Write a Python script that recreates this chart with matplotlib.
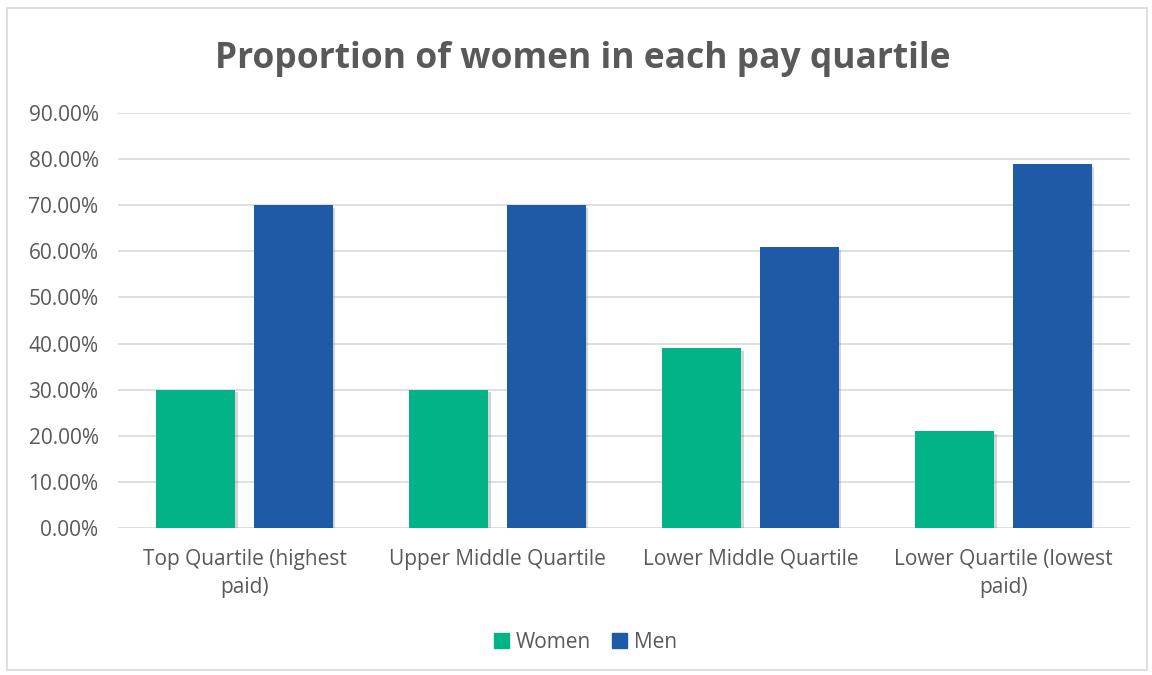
import matplotlib.pyplot as plt
import matplotlib.patheffects as pe
from matplotlib.patches import Rectangle, Patch
from matplotlib.ticker import FuncFormatter
import numpy as np

categories = ["Top Quartile (highest\npaid)", "Upper Middle Quartile",
              "Lower Middle Quartile", "Lower Quartile (lowest\npaid)"]
women = [0.30, 0.30, 0.39, 0.21]
men = [0.70, 0.70, 0.61, 0.79]
yticks = [0.0, 0.1, 0.2, 0.3, 0.4, 0.5, 0.6, 0.7, 0.8, 0.9]

plt.rcParams['font.family'] = ['Open Sans', 'DejaVu Sans']
grey = '#595959'
c_women = '#02b388'
c_men = '#1f5aa6'

fig = plt.figure(figsize=(11.52, 6.75), dpi=100)
fig.patches.append(Rectangle((7 / 1152, 5 / 675), 1140 / 1152, 662 / 675,
                             transform=fig.transFigure, fill=False,
                             edgecolor='#d9d9d9', linewidth=1.2))
ax = fig.add_axes([118 / 1152, 147 / 675, 1012 / 1152, 415 / 675])

x = np.arange(len(categories))
w = 0.312
shadow = [pe.SimplePatchShadow(offset=(2, -2), shadow_rgbFace='#888888', alpha=0.35), pe.Normal()]
b1 = ax.bar(x - 0.192, women, w, color=c_women, zorder=3)
b2 = ax.bar(x + 0.192, men, w, color=c_men, zorder=3)
for b in list(b1) + list(b2):
    b.set_path_effects(shadow)

ax.set_xlim(-0.5, 3.5)
ax.set_ylim(0, 0.9)
ax.set_yticks(yticks)
ax.yaxis.set_major_formatter(FuncFormatter(lambda v, p: f"{v * 100:.2f}%"))
ax.set_xticks(x)
ax.set_xticklabels(categories, linespacing=1.45)
ax.tick_params(axis='both', length=0, labelsize=15, colors=grey)
ax.tick_params(axis='x', pad=15)
ax.tick_params(axis='y', pad=14)
ax.grid(axis='y', color='#d9d9d9', linewidth=1.2, zorder=0)
for s in ax.spines.values():
    s.set_visible(False)

fig.text(0.506, 0.913, "Proportion of women in each pay quartile", ha='center', va='center',
         fontsize=25.5, fontweight='bold', color=grey)

handles = [Patch(color=c_women, label='Women'), Patch(color=c_men, label='Men')]
fig.legend(handles=handles, loc='center', bbox_to_anchor=(0.508, 0.048), ncol=2, frameon=False,
           fontsize=15, labelcolor=grey, handlelength=0.75, handleheight=0.75,
           handletextpad=0.3, columnspacing=1.0)

fig.savefig("out.png", dpi=100)
